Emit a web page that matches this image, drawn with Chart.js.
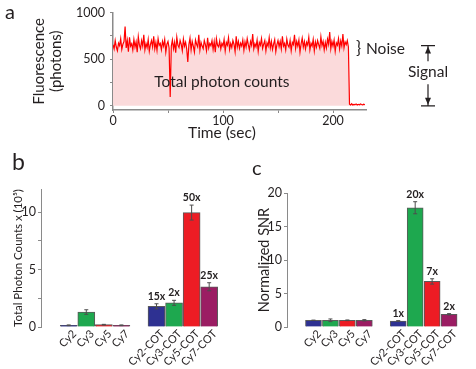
<!DOCTYPE html>
<html>
<head>
<meta charset="utf-8">
<script src="https://cdn.jsdelivr.net/npm/chart.js@4.4.0/dist/chart.umd.min.js"></script>
<style>
  body { margin: 0; background: #fff; width: 476px; height: 369px; position: relative; overflow: hidden; font-family: Lato, sans-serif; }
  .box { position: absolute; }
  .tag { position: absolute; color: #231f20; font-size: 20px; line-height: 20px; }
</style>
</head>
<body>
<div class="box" style="left:0;top:0;width:476px;height:141px"><canvas id="traceChart"></canvas></div>
<div class="box" style="left:0;top:140px;width:238px;height:229px"><canvas id="photonChart"></canvas></div>
<div class="box" style="left:238px;top:140px;width:238px;height:229px"><canvas id="snrChart"></canvas></div>
<div class="tag" style="left:5px;top:1px">a</div>
<div class="tag" style="left:12px;top:151px;font-size:23px">b</div>
<div class="tag" style="left:252px;top:157px">c</div>

<script>
// panel a: single-molecule trace, one sample per second
const sampleSec = 1;
const photons = [
  655, 610, 700, 630, 590, 672, 645, 720, 605, 660, 690, 850, 620, 700, 580, 735, 640, 665, 598, 712,
  630, 685, 575, 740, 650, 612, 698, 640, 760, 600, 668, 625, 710, 585, 655, 700, 632, 745, 610, 680,
  595, 720, 648, 668, 602, 690, 640, 710, 575, 660, 690, 620, 95, 640, 705, 612, 680, 570, 735, 650,
  625, 700, 660, 590, 715, 640, 682, 610, 470, 655, 725, 600, 690, 640, 575, 705, 660, 630, 760, 598,
  680, 640, 612, 700, 655, 590, 730, 620, 668, 645, 700, 605, 690, 575, 720, 650, 632, 695, 610, 670,
  640, 712, 588, 680, 650, 730, 605, 668, 625, 700, 660, 580, 745, 630, 690, 615, 672, 640, 705, 595,
  685, 630, 720, 655, 600, 690, 648, 770, 610, 665, 632, 705, 585, 680, 650, 720, 615, 660, 700, 590,
  675, 640, 730, 620, 690, 605, 662, 710, 580, 655, 700, 635, 690, 610, 745, 640, 668, 600, 715, 650,
  628, 700, 590, 680, 655, 760, 615, 690, 640, 705, 575, 665, 725, 630, 690, 610, 680, 650, 735, 600,
  670, 640, 712, 590, 685, 630, 700, 655, 615, 740, 645, 690, 600, 680, 620, 715, 660, 790, 612, 690,
  640, 705, 585, 675, 650, 720, 610, 695, 640, 770, 620, 685, 655, 700, 630,
  18, 10, 22, 8, 15, 12, 20, 9, 16, 11, 19, 14, 10, 17, 12
];
const timeTicks = [0, 50, 100, 150, 200];
const timeLabeled = [0, 100, 200];
const fluorTicks = [0, 250, 500, 750, 1000];
const fluorLabeled = [0, 500, 1000];

// panels b and c
const dyes = ['Cy2', 'Cy3', 'Cy5', 'Cy7', 'Cy2-COT', 'Cy3-COT', 'Cy5-COT', 'Cy7-COT'];
const dyeSlots = [1, 2, 3, 4, 6, 7, 8, 9];
const dyeColors = ['#2e3192', '#1ea84f', '#ed1c24', '#9b1d63', '#2e3192', '#1ea84f', '#ed1c24', '#9b1d63'];
const photonCounts = [0.15, 1.3, 0.2, 0.15, 1.8, 2.1, 9.95, 3.5];
const photonErr = [0.03, 0.2, 0.03, 0.03, 0.22, 0.22, 0.65, 0.35];
const photonFold = ['', '', '', '', '15x', '2x', '50x', '25x'];
const photonTicks = [0, 2.5, 5, 7.5, 10];
const photonLabeled = [0, 5, 10];
const snrValues = [1, 1, 1, 1, 0.9, 17.8, 6.8, 1.9];
const snrErr = [0.03, 0.2, 0.05, 0.1, 0.05, 0.9, 0.4, 0.1];
const snrFold = ['', '', '', '', '1x', '20x', '7x', '2x'];
const snrTicks = [0, 2.5, 5, 7.5, 10, 12.5, 15, 17.5, 20];
const snrLabeled = [0, 5, 10, 15, 20];

Chart.defaults.font.family = 'Lato, sans-serif';
Chart.defaults.color = '#231f20';
Chart.defaults.animation = false;

const axisGray = '#8a8a8a';
const ink = '#231f20';

const traceNotes = {
  id: 'traceNotes',
  afterDraw(chart) {
    const { ctx, chartArea, scales: { x, y } } = chart;
    ctx.save();
    ctx.fillStyle = ink;
    ctx.strokeStyle = ink;
    ctx.textAlign = 'center';
    ctx.textBaseline = 'middle';
    ctx.font = '15.5px Lato, sans-serif';
    ctx.fillText('Total photon counts', x.getPixelForValue(99), y.getPixelForValue(258));
    ctx.fillText('Time (sec)', x.getPixelForValue(99), 133);

    // noise brace
    ctx.font = '17px Lato, sans-serif';
    ctx.textAlign = 'left';
    ctx.fillText('}', chartArea.right - 10, y.getPixelForValue(610));
    ctx.font = '15.5px Lato, sans-serif';
    ctx.fillText('Noise', chartArea.right, y.getPixelForValue(610));

    // signal arrow
    const ax = chartArea.right + 62;
    const yTop = y.getPixelForValue(645);
    const yBot = y.getPixelForValue(0);
    const yMid = y.getPixelForValue(360);
    ctx.textAlign = 'center';
    ctx.fillText('Signal', ax, yMid);
    ctx.lineWidth = 1.2;
    ctx.beginPath();
    ctx.moveTo(ax - 7, yTop); ctx.lineTo(ax + 7, yTop);
    ctx.moveTo(ax - 7, yBot); ctx.lineTo(ax + 7, yBot);
    ctx.moveTo(ax, yTop); ctx.lineTo(ax, yMid - 11);
    ctx.moveTo(ax, yMid + 12); ctx.lineTo(ax, yBot);
    ctx.stroke();
    ctx.beginPath();
    ctx.moveTo(ax, yTop + 1); ctx.lineTo(ax - 3, yTop + 8); ctx.lineTo(ax + 3, yTop + 8); ctx.closePath();
    ctx.moveTo(ax, yBot - 1); ctx.lineTo(ax - 3, yBot - 8); ctx.lineTo(ax + 3, yBot - 8); ctx.closePath();
    ctx.fill();
    ctx.restore();
  }
};

new Chart(document.getElementById('traceChart'), {
  type: 'line',
  data: {
    datasets: [{
      data: photons.map((v, i) => ({ x: i * sampleSec, y: v })),
      borderColor: '#ff0000',
      borderWidth: 1.2,
      pointRadius: 0,
      tension: 0,
      fill: 'origin',
      backgroundColor: '#fbdadb'
    }]
  },
  options: {
    responsive: true,
    maintainAspectRatio: false,
    layout: { padding: { left: 0, right: 110, top: 12, bottom: 0 } },
    plugins: { legend: { display: false }, tooltip: { enabled: false } },
    scales: {
      x: {
        type: 'linear', min: 0, max: 230,
        afterBuildTicks: s => { s.ticks = timeTicks.map(v => ({ value: v })); },
        afterFit: s => { s.height = 31; },
        ticks: { callback: v => timeLabeled.includes(v) ? v : '', font: { size: 12.5 }, padding: 0, maxRotation: 0 },
        grid: { drawOnChartArea: false, tickLength: 3, tickColor: axisGray },
        border: { color: axisGray, width: 1.5 }
      },
      y: {
        min: -45, max: 1000,
        afterBuildTicks: s => { s.ticks = fluorTicks.map(v => ({ value: v })); },
        afterFit: s => { s.width = 113; },
        ticks: { callback: v => fluorLabeled.includes(v) ? v : '', font: { size: 12.5 }, padding: 5 },
        grid: { drawOnChartArea: false, tickLength: 3, tickColor: axisGray },
        border: { color: axisGray, width: 1.5 },
        title: { display: true, text: ['Fluorescence', '(photons)'], font: { size: 15, lineHeight: 1.1 }, padding: { top: 31, bottom: 0 } }
      }
    }
  },
  plugins: [traceNotes]
});

// error bars, fold-change labels and the slanted dye names
function barExtras(errs, folds) {
  return {
    id: 'barExtras',
    afterDatasetsDraw(chart) {
      const { ctx, chartArea, scales: { x, y } } = chart;
      const meta = chart.getDatasetMeta(0);
      const vals = chart.data.datasets[0].data;
      ctx.save();
      ctx.strokeStyle = '#4d4d4d';
      ctx.lineWidth = 1;
      meta.data.forEach((bar, i) => {
        const v = vals[i].y;
        const top = y.getPixelForValue(v + errs[i]);
        const bot = y.getPixelForValue(v - errs[i]);
        ctx.beginPath();
        ctx.moveTo(bar.x, top); ctx.lineTo(bar.x, bot);
        ctx.moveTo(bar.x - 2, top); ctx.lineTo(bar.x + 2, top);
        ctx.moveTo(bar.x - 2, bot); ctx.lineTo(bar.x + 2, bot);
        ctx.stroke();
        if (folds[i]) {
          ctx.fillStyle = ink;
          ctx.font = 'bold 10.5px Lato, sans-serif';
          ctx.textAlign = 'center';
          ctx.textBaseline = 'bottom';
          ctx.fillText(folds[i], bar.x, top - 2);
        }
      });
      ctx.fillStyle = ink;
      ctx.font = '11px Lato, sans-serif';
      ctx.textAlign = 'right';
      ctx.textBaseline = 'top';
      dyeSlots.forEach((s, i) => {
        ctx.save();
        ctx.translate(x.getPixelForValue(s) + 2, chartArea.bottom + 1);
        ctx.rotate(-Math.PI / 4);
        ctx.fillText(dyes[i], 0, 0);
        ctx.restore();
      });
      ctx.restore();
    }
  };
}

function barChart(id, values, errs, folds, yMax, yTicks, yLabeled, yTitle, opts) {
  new Chart(document.getElementById(id), {
    type: 'bar',
    data: {
      datasets: [{
        data: dyeSlots.map((s, i) => ({ x: s, y: values[i] })),
        backgroundColor: dyeColors,
        borderColor: '#5a5a5a',
        borderWidth: 1,
        barThickness: opts.bar
      }]
    },
    options: {
      responsive: true,
      maintainAspectRatio: false,
      layout: { padding: { left: 0, right: opts.right, top: opts.top, bottom: 0 } },
      plugins: { legend: { display: false }, tooltip: { enabled: false } },
      scales: {
        x: {
          type: 'linear', min: opts.xMin, max: opts.xMax,
          afterBuildTicks: s => { s.ticks = dyeSlots.map(v => ({ value: v })); },
          afterFit: s => { s.height = 42; },
          ticks: { display: false },
          grid: { display: false, drawTicks: false },
          border: { display: false }
        },
        y: {
          min: 0, max: yMax,
          afterBuildTicks: s => { s.ticks = yTicks.map(v => ({ value: v })); },
          afterFit: s => { s.width = opts.yWidth; },
          ticks: { callback: v => yLabeled.includes(v) ? v : '', font: { size: 12.5 }, padding: 2 },
          grid: { drawOnChartArea: false, tickLength: 3, tickColor: axisGray },
          border: { color: axisGray, width: 1 },
          title: { display: true, text: yTitle, font: { size: opts.titleSize }, padding: { top: opts.titlePad, bottom: 0 } }
        }
      }
    },
    plugins: [barExtras(errs, folds)]
  });
}

barChart('photonChart', photonCounts, photonErr, photonFold, 12, photonTicks, photonLabeled,
  'Total Photon Counts x (10\u2075)',
  { bar: 17, right: 6, top: 49, xMin: 0.1, xMax: 9.62, yWidth: 41, titleSize: 11.5, titlePad: 11 });

barChart('snrChart', snrValues, snrErr, snrFold, 20, snrTicks, snrLabeled,
  'Normalized SNR',
  { bar: 16, right: 4, top: 53, xMin: 0.12, xMax: 9.67, yWidth: 49, titleSize: 14.5, titlePad: 18 });
</script>
</body>
</html>
